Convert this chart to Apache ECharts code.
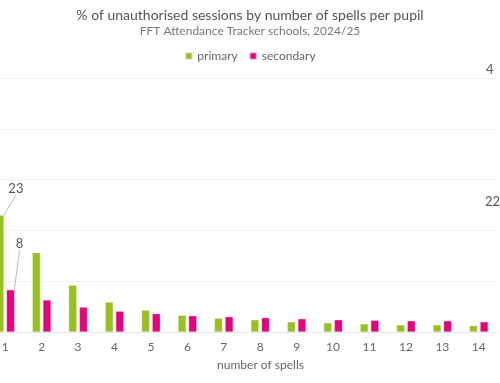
<!DOCTYPE html>
<html><head><meta charset="utf-8">
<style>html,body{margin:0;padding:0;background:#fff}#c{width:500px;height:383px}</style>
<script src="https://cdn.jsdelivr.net/npm/echarts@6/dist/echarts.min.js"></script>
</head><body><div id="c"></div>
<script>
const categories = ['1','2','3','4','5','6','7','8','9','10','11','12','13','14'];
const primary = [23, 15.6, 9.2, 5.9, 4.3, 3.3, 2.7, 2.4, 2.0, 1.8, 1.6, 1.4, 1.4, 1.25];
const secondary = [8.3, 6.3, 4.9, 4.1, 3.6, 3.2, 3.0, 2.8, 2.6, 2.4, 2.3, 2.2, 2.2, 2.0];
const primaryLabel = '23';
const secondaryLabel = '8';
const strayLabels = ['4', '22'];

const font = 'Lato, "Open Sans", sans-serif';
const chart = echarts.init(document.getElementById('c'));
function withFirstLabel(values, text) {
  return values.map((v, i) => i === 0 ? {
    value: v,
    label: { show: true, position: 'top', formatter: text, color: '#555', fontSize: 13, fontFamily: font },
    labelLine: { show: true, lineStyle: { color: '#bbb', width: 1 }, length2: 0 }
  } : v);
}
chart.setOption({
  animation: false,
  textStyle: { fontFamily: font },
  title: {
    text: '% of unauthorised sessions by number of spells per pupil',
    subtext: 'FFT Attendance Tracker schools, 2024/25',
    left: 'center', top: 3, itemGap: 3,
    textStyle: { fontSize: 14, fontWeight: 'normal', color: '#555', fontFamily: font },
    subtextStyle: { fontSize: 12, color: '#777', fontFamily: font }
  },
  legend: {
    top: 45, left: 'center', itemWidth: 7, itemHeight: 7, icon: 'rect', itemGap: 11,
    textStyle: { fontSize: 12, color: '#666', fontFamily: font },
    data: ['primary', 'secondary']
  },
  grid: { left: -13, right: 3, top: 78, bottom: 51, containLabel: false, outerBoundsMode: 'none' },
  xAxis: {
    type: 'category', data: categories,
    axisLine: { lineStyle: { color: '#e4e4e4' } }, axisTick: { show: false },
    axisLabel: { color: '#666', fontSize: 12, margin: 9, fontFamily: font },
    name: 'number of spells', nameLocation: 'middle', nameGap: 27,
    nameTextStyle: { color: '#666', fontSize: 12, fontFamily: font, padding: [0, 0, 0, 37] }
  },
  yAxis: {
    type: 'value', min: 0, max: 50, interval: 10,
    axisLabel: { show: false }, axisLine: { show: false }, axisTick: { show: false },
    splitLine: { lineStyle: { color: '#f1f1f1' } }
  },
  series: [
    {
      name: 'primary', type: 'bar', data: withFirstLabel(primary, primaryLabel), barWidth: 8, barGap: '33%',
      itemStyle: { color: '#97c11f', borderColor: 'rgba(255,255,255,0.5)', borderWidth: 0.5 },
      labelLayout: p => p.dataIndex === 0 ? { dx: 16, dy: -15 } : {}
    },
    {
      name: 'secondary', type: 'bar', data: withFirstLabel(secondary, secondaryLabel), barWidth: 8,
      itemStyle: { color: '#e6007e', borderColor: 'rgba(255,255,255,0.5)', borderWidth: 0.5 },
      labelLayout: p => p.dataIndex === 0 ? { dx: 9, dy: -35 } : {}
    }
  ],
  graphic: [
    { type: 'text', left: 486, top: 63, style: { text: strayLabels[0], fill: '#555', fontSize: 13, fontFamily: font } },
    { type: 'text', left: 485, top: 195, style: { text: strayLabels[1], fill: '#555', fontSize: 13, fontFamily: font } }
  ]
});
</script></body></html>
